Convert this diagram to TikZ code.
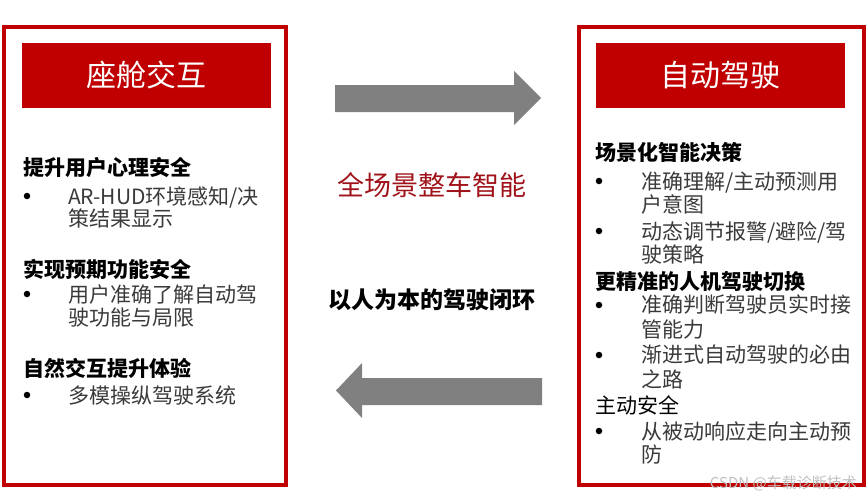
\documentclass[tikz,border=0pt]{standalone}
\usepackage{fontspec}
\setmainfont{Noto Sans CJK SC}
\definecolor{pptred}{HTML}{C00000}
\definecolor{midred}{HTML}{A0121A}
\definecolor{arrowgray}{HTML}{808080}
\definecolor{bodygray}{HTML}{3A3A3A}
\tikzset{
  panel/.style={draw=pptred, line width=4pt, fill=white, rectangle, inner sep=0},
  titlebar/.style={fill=pptred, text=white, rectangle, inner sep=0, font=\fontsize{30}{34}\selectfont},
  headtxt/.style={anchor=base west, inner sep=0, text=black, font=\fontsize{21}{24}\selectfont\bfseries},
  bodytxt/.style={anchor=base west, inner sep=0, text=bodygray, font=\fontsize{21}{24}\selectfont},
  bul/.style={circle, fill=black, inner sep=0, minimum size=6.5pt},
  blockarrow/.style={fill=arrowgray, draw=none}
}
\begin{document}
\begin{tikzpicture}[x=1pt,y=-1pt]
\useasboundingbox (0,0) rectangle (867,498);
% panels
\node[panel, minimum width=282pt, minimum height=458pt] (lpanel) at (145,256) {};
\node[panel, minimum width=285pt, minimum height=458pt] (rpanel) at (721.5,256) {};
\node[titlebar, minimum width=249pt, minimum height=65pt] (ltitle) at (146.5,75.5) {座舱交互};
\node[titlebar, minimum width=249pt, minimum height=65pt] (rtitle) at (720.5,75.5) {自动驾驶};
% left content
\node[headtxt] (lh1) at (23,175.5) {提升用户心理安全};
\node[bul] (lb1) at (27,196) {};
\node[bodytxt] (lt1a) at (68,204.5) {AR-HUD环境感知/决};
\node[bodytxt] (lt1b) at (68,226.5) {策结果显示};
\node[headtxt] (lh2) at (23,277.5) {实现预期功能安全};
\node[bul] (lb2) at (27,294) {};
\node[bodytxt] (lt2a) at (68,302.5) {用户准确了解自动驾};
\node[bodytxt] (lt2b) at (68,325.5) {驶功能与局限};
\node[headtxt] (lh3) at (23,376.5) {自然交互提升体验};
\node[bul] (lb3) at (27,395) {};
\node[bodytxt] (lt3) at (68,403.5) {多模操纵驾驶系统};
% right content
\node[headtxt] (rh1) at (595,160.5) {场景化智能决策};
\node[bul] (rb1) at (599,181) {};
\node[bodytxt] (rt1a) at (641,189.5) {准确理解/主动预测用};
\node[bodytxt] (rt1b) at (641,212.5) {户意图};
\node[bul] (rb2) at (599,231) {};
\node[bodytxt] (rt2a) at (641,239.5) {动态调节报警/避险/驾};
\node[bodytxt] (rt2b) at (641,262.5) {驶策略};
\node[headtxt] (rh2) at (595,289.5) {更精准的人机驾驶切换};
\node[bul] (rb3) at (599,305) {};
\node[bodytxt] (rt3a) at (641,312.5) {准确判断驾驶员实时接};
\node[bodytxt] (rt3b) at (641,337.5) {管能力};
\node[bul] (rb4) at (599,355) {};
\node[bodytxt] (rt4a) at (641,362.5) {渐进式自动驾驶的必由};
\node[bodytxt] (rt4b) at (641,387.5) {之路};
\node[headtxt, font=\fontsize{21}{24}\selectfont] (rh3) at (595,413.5) {主动安全};
\node[bul] (rb5) at (599,431) {};
\node[bodytxt] (rt5a) at (641,439.5) {从被动响应走向主动预};
\node[bodytxt] (rt5b) at (641,462.5) {防};
% middle
\fill[blockarrow] (335,85) -- (514,85) -- (514,71) -- (541,98) -- (514,125) -- (514,112) -- (335,112) -- cycle;
\fill[blockarrow] (542,378) -- (362,378) -- (362,363) -- (336,390.5) -- (362,418) -- (362,405) -- (542,405) -- cycle;
\node[inner sep=0, text=midred, font=\fontsize{27}{30}\selectfont] (mid1) at (432,185) {全场景整车智能};
\node[inner sep=0, text=black, font=\fontsize{23}{26}\selectfont\bfseries] (mid2) at (432,300) {以人为本的驾驶闭环};
% watermark
\node[anchor=east, inner sep=0, text=black!25, font=\fontsize{15}{17}\selectfont] (wm) at (857,483) {CSDN @车载诊断技术};
\end{tikzpicture}
\end{document}
